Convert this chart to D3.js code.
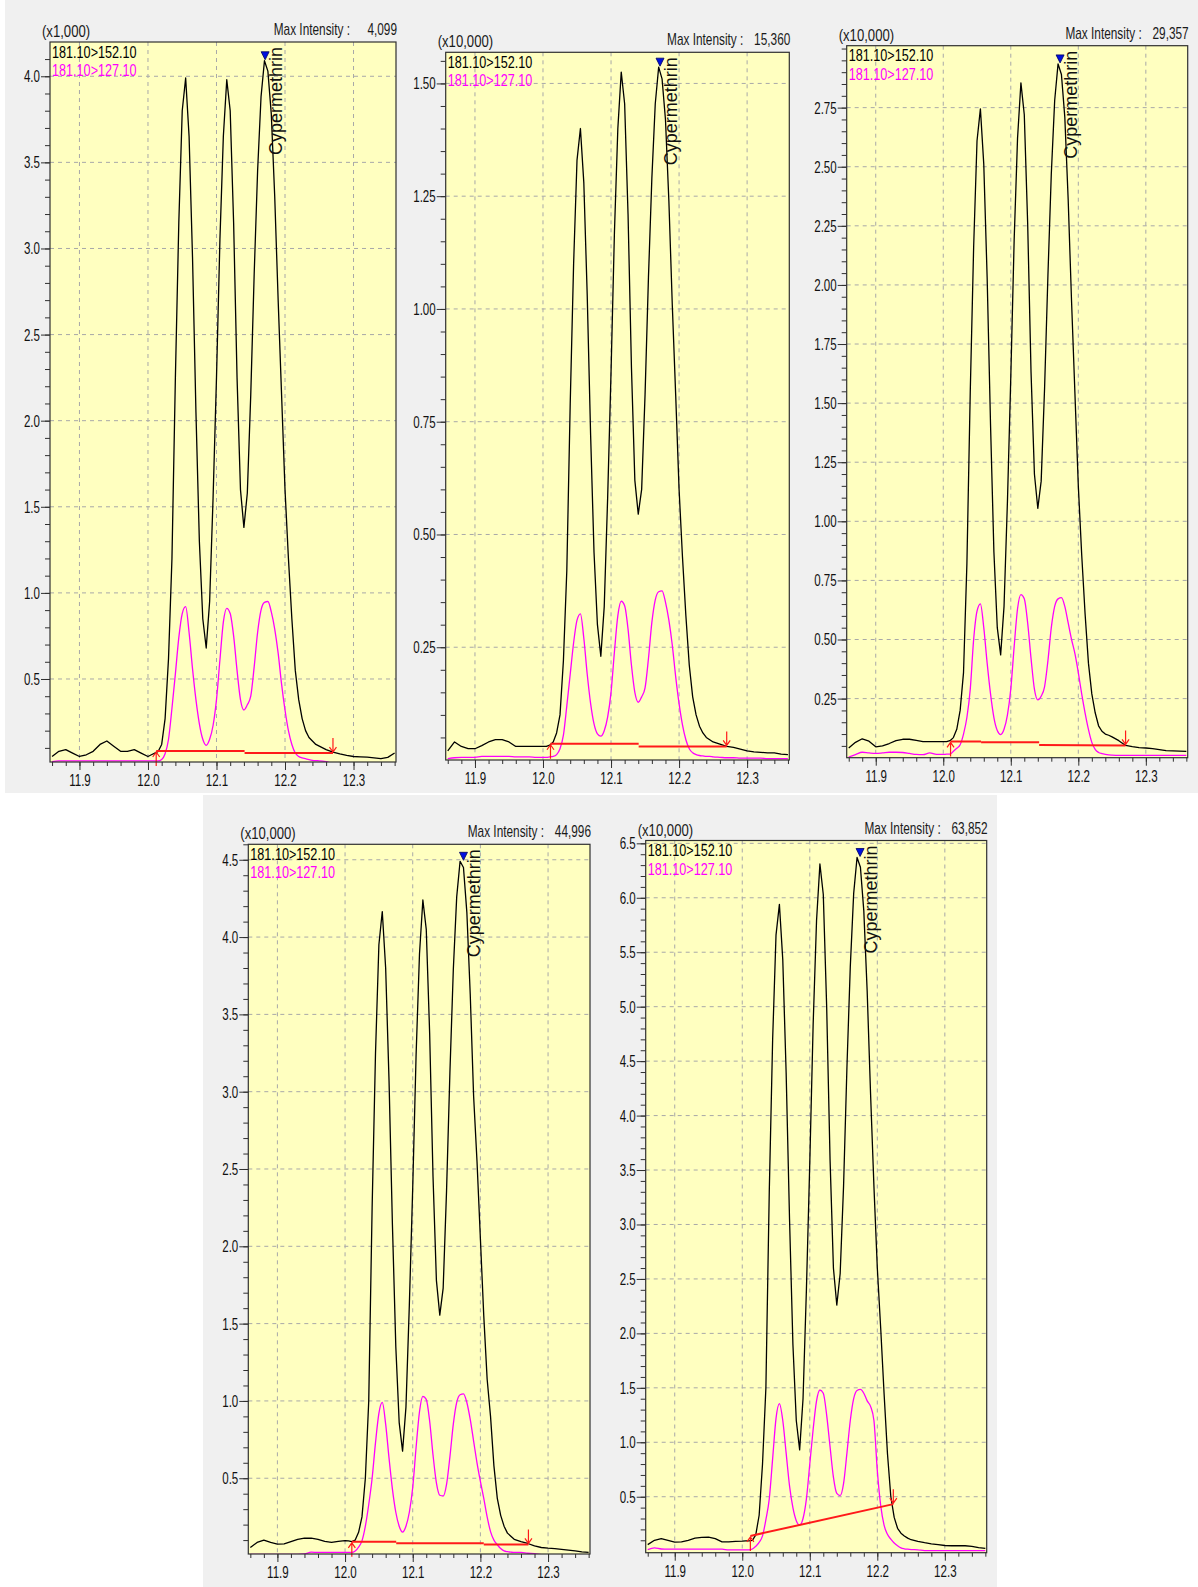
<!DOCTYPE html>
<html>
<head>
<meta charset="utf-8">
<script src="https://cdn.jsdelivr.net/npm/d3@7"></script>
<style>
  body { margin: 0; background: #ffffff; }
  svg text { font-family: "Liberation Sans", Arial, sans-serif; }
</style>
</head>
<body>
<svg id="chart" width="1198" height="1587"></svg>
<script>
// Retention time grid (min): coarse on the baseline, fine across the peak cluster
const times = [
  11.86, 11.87, 11.88, 11.89, 11.90, 11.91, 11.92, 11.93, 11.94, 11.95, 11.96, 11.97, 11.98, 11.99, 12.00,
  12.005, 12.010, 12.015, 12.020, 12.025, 12.030, 12.035, 12.040, 12.045, 12.050,
  12.055, 12.060, 12.065, 12.070, 12.075, 12.080, 12.085, 12.090, 12.095, 12.100,
  12.105, 12.110, 12.115, 12.120, 12.125, 12.130, 12.135, 12.140, 12.145, 12.150,
  12.155, 12.160, 12.165, 12.170, 12.175, 12.180, 12.185, 12.190, 12.195, 12.200,
  12.205, 12.210, 12.215, 12.220, 12.225, 12.230, 12.235, 12.240, 12.245, 12.250,
  12.26, 12.27, 12.28, 12.29, 12.30, 12.31, 12.32, 12.33, 12.34, 12.35, 12.36
];

const xTicks = [11.9, 12.0, 12.1, 12.2, 12.3];
const transitions = ["181.10>152.10", "181.10>127.10"];
const compoundName = "Cypermethrin";

// Level 1 (x1,000)
const p1Quant = [
  0.05, 0.08, 0.09, 0.07, 0.05, 0.06, 0.08, 0.12, 0.14, 0.11, 0.08, 0.08, 0.09, 0.07, 0.05,
  0.06, 0.07, 0.08, 0.12, 0.27, 0.62, 1.20, 2.25, 3.15, 3.80,
  3.99, 3.65, 2.95, 2.05, 1.30, 0.85, 0.68, 0.95, 1.55, 2.25,
  3.05, 3.65, 3.98, 3.80, 3.15, 2.25, 1.60, 1.38, 1.58, 2.15,
  2.85, 3.45, 3.88, 4.09, 4.03, 3.78, 3.30, 2.70, 2.15, 1.60,
  1.20, 0.85, 0.55, 0.38, 0.27, 0.20, 0.16, 0.14, 0.12, 0.11,
  0.09, 0.076, 0.065, 0.056, 0.05, 0.048, 0.046, 0.042, 0.037, 0.045, 0.07
];
const p1Qual = [
  0.02, 0.025, 0.025, 0.025, 0.025, 0.025, 0.025, 0.025, 0.025, 0.025, 0.025, 0.025, 0.025, 0.025, 0.025,
  0.025, 0.025, 0.025, 0.033, 0.066, 0.15, 0.33, 0.53, 0.74, 0.88,
  0.92, 0.77, 0.56, 0.38, 0.24, 0.15, 0.115, 0.15, 0.23, 0.38,
  0.61, 0.83, 0.91, 0.88, 0.75, 0.55, 0.38, 0.32, 0.35, 0.40,
  0.57, 0.77, 0.90, 0.945, 0.95, 0.89, 0.79, 0.65, 0.47, 0.32,
  0.20, 0.12, 0.07, 0.05, 0.042, 0.037, 0.032, 0.028, 0.026, 0.025,
  0.02, 0.012, 0.012, 0.012, 0.012, 0.012, 0.012, 0.012, 0.012, 0.012, 0.012
];

// Level 2 (x10,000)
const p2Quant = [
  0.02, 0.04, 0.03, 0.025, 0.025, 0.032, 0.04, 0.045, 0.045, 0.04, 0.03, 0.03, 0.03, 0.03, 0.03,
  0.030, 0.033, 0.040, 0.060, 0.10, 0.22, 0.42, 0.79, 1.10, 1.33,
  1.40, 1.28, 1.03, 0.72, 0.46, 0.30, 0.23, 0.34, 0.58, 0.86,
  1.17, 1.40, 1.525, 1.455, 1.21, 0.87, 0.62, 0.545, 0.60, 0.81,
  1.07, 1.29, 1.455, 1.536, 1.51, 1.42, 1.24, 1.01, 0.81, 0.60,
  0.45, 0.32, 0.21, 0.14, 0.10, 0.075, 0.06, 0.05, 0.045, 0.04,
  0.035, 0.03, 0.028, 0.024, 0.02, 0.018, 0.017, 0.016, 0.016, 0.013, 0.012
];
const p2Qual = [
  0.003, 0.005, 0.006, 0.006, 0.006, 0.008, 0.008, 0.008, 0.008, 0.008, 0.007, 0.007, 0.007, 0.006, 0.006,
  0.006, 0.007, 0.008, 0.012, 0.025, 0.055, 0.12, 0.19, 0.26, 0.31,
  0.324, 0.27, 0.19, 0.125, 0.08, 0.058, 0.053, 0.065, 0.095, 0.15,
  0.24, 0.32, 0.352, 0.342, 0.29, 0.21, 0.15, 0.128, 0.14, 0.16,
  0.225, 0.305, 0.355, 0.373, 0.375, 0.35, 0.31, 0.255, 0.185, 0.125,
  0.078, 0.045, 0.025, 0.016, 0.012, 0.01, 0.009, 0.008, 0.008, 0.007,
  0.006, 0.005, 0.005, 0.004, 0.004, 0.004, 0.004, 0.003, 0.003, 0.003, 0.003
];

// Level 3 (x10,000)
const p3Quant = [
  0.041, 0.065, 0.08, 0.07, 0.046, 0.05, 0.06, 0.072, 0.078, 0.078, 0.073, 0.068, 0.068, 0.068, 0.068,
  0.068, 0.072, 0.085, 0.12, 0.20, 0.36, 0.82, 1.55, 2.16, 2.61,
  2.745, 2.51, 2.03, 1.41, 0.87, 0.55, 0.435, 0.64, 1.08, 1.61,
  2.19, 2.62, 2.855, 2.72, 2.26, 1.63, 1.20, 1.055, 1.17, 1.56,
  2.04, 2.47, 2.78, 2.935, 2.89, 2.71, 2.36, 1.93, 1.54, 1.15,
  0.86, 0.61, 0.40, 0.27, 0.19, 0.135, 0.112, 0.10, 0.095, 0.088,
  0.072, 0.052, 0.047, 0.043, 0.041, 0.038, 0.034, 0.03, 0.029, 0.028, 0.027
];
const p3Qual = [
  0.003, 0.013, 0.023, 0.02, 0.018, 0.02, 0.023, 0.023, 0.022, 0.018, 0.014, 0.013, 0.02, 0.014, 0.014,
  0.015, 0.015, 0.027, 0.04, 0.055, 0.10, 0.17, 0.29, 0.50, 0.62,
  0.651, 0.55, 0.40, 0.27, 0.17, 0.115, 0.098, 0.12, 0.18, 0.29,
  0.47, 0.63, 0.69, 0.672, 0.57, 0.42, 0.29, 0.245, 0.26, 0.30,
  0.41, 0.55, 0.64, 0.672, 0.677, 0.64, 0.57, 0.50, 0.44, 0.36,
  0.27, 0.19, 0.12, 0.065, 0.035, 0.022, 0.017, 0.014, 0.012, 0.011,
  0.01, 0.01, 0.01, 0.01, 0.01, 0.01, 0.01, 0.01, 0.01, 0.01, 0.01
];

// Level 4 (x10,000)
const p4Quant = [
  0.052, 0.085, 0.10, 0.085, 0.074, 0.075, 0.09, 0.105, 0.113, 0.112, 0.105, 0.092, 0.085, 0.092, 0.097,
  0.095, 0.09, 0.10, 0.15, 0.25, 0.50, 1.00, 2.25, 3.25, 3.95,
  4.165, 3.80, 3.07, 2.14, 1.35, 0.86, 0.675, 0.96, 1.62, 2.38,
  3.24, 3.89, 4.24, 4.05, 3.38, 2.45, 1.78, 1.555, 1.73, 2.36,
  3.13, 3.79, 4.26, 4.49, 4.45, 4.16, 3.63, 2.97, 2.55, 2.05,
  1.55, 1.14, 0.90, 0.58, 0.37, 0.26, 0.19, 0.145, 0.125, 0.105,
  0.09, 0.078, 0.062, 0.052, 0.048, 0.045, 0.04, 0.035, 0.03, 0.024, 0.02
];
const p4Qual = [
  0.008, 0.008, 0.008, 0.008, 0.008, 0.008, 0.008, 0.008, 0.01, 0.022, 0.02, 0.02, 0.02, 0.02, 0.02,
  0.02, 0.02, 0.03, 0.055, 0.095, 0.19, 0.33, 0.50, 0.73, 0.92,
  0.99, 0.85, 0.63, 0.43, 0.28, 0.19, 0.152, 0.19, 0.28, 0.44,
  0.70, 0.93, 1.03, 1.01, 0.87, 0.65, 0.47, 0.39, 0.385, 0.46,
  0.64, 0.85, 0.99, 1.04, 1.046, 0.99, 0.88, 0.74, 0.60, 0.48,
  0.37, 0.25, 0.155, 0.10, 0.07, 0.045, 0.03, 0.025, 0.022, 0.02,
  0.02, 0.015, 0.013, 0.006, 0.004, 0.004, 0.004, 0.004, 0.004, 0.004, 0.004
];

// Level 5 (x10,000)
const p5Quant = [
  0.06, 0.10, 0.116, 0.10, 0.083, 0.085, 0.10, 0.12, 0.127, 0.128, 0.115, 0.085, 0.085, 0.09, 0.092,
  0.095, 0.095, 0.10, 0.15, 0.33, 0.80, 1.50, 3.30, 4.70, 5.66,
  5.94, 5.43, 4.39, 3.05, 1.90, 1.20, 0.93, 1.40, 2.40, 3.57,
  4.84, 5.79, 6.31, 6.03, 5.00, 3.60, 2.60, 2.26, 2.55, 3.35,
  4.44, 5.37, 6.04, 6.37, 6.28, 5.88, 5.14, 4.20, 3.35, 2.60,
  2.05, 1.45, 0.90, 0.50, 0.31, 0.21, 0.165, 0.14, 0.12, 0.105,
  0.09, 0.078, 0.068, 0.06, 0.052, 0.05, 0.05, 0.05, 0.045, 0.032, 0.025
];
const p5Qual = [
  0.014, 0.03, 0.02, 0.018, 0.018, 0.018, 0.018, 0.018, 0.018, 0.018, 0.018, 0.018, 0.012, 0.012, 0.012,
  0.012, 0.012, 0.02, 0.045, 0.08, 0.14, 0.29, 0.48, 0.85, 1.22,
  1.355, 1.20, 0.90, 0.60, 0.40, 0.28, 0.24, 0.30, 0.48, 0.80,
  1.12, 1.38, 1.48, 1.45, 1.25, 0.96, 0.68, 0.53, 0.51, 0.62,
  0.90, 1.20, 1.40, 1.475, 1.485, 1.45, 1.38, 1.33, 1.20, 0.74,
  0.42, 0.24, 0.155, 0.11, 0.075, 0.05, 0.03, 0.022, 0.018, 0.015,
  0.012, 0.005, 0.005, 0.005, 0.005, 0.005, 0.005, 0.005, 0.005, 0.005, 0.005
];

// Integration baselines: [start time, start level, end time, end level]
const p1Base = [[12.012, 0.082, 12.141, 0.082], [12.141, 0.07, 12.27, 0.07]];
const p2Base = [[12.011, 0.036, 12.1406, 0.036], [12.1406, 0.03, 12.27, 0.03]];
const p3Base = [[12.0108, 0.069, 12.056, 0.069], [12.056, 0.065, 12.142, 0.065], [12.142, 0.054, 12.27, 0.052]];
const p4Base = [[12.010, 0.089, 12.0756, 0.089], [12.0756, 0.08, 12.205, 0.08], [12.205, 0.072, 12.271, 0.072]];
const p5Base = [[12.012, 0.14, 12.2237, 0.432]];

// Apex of the identified peak (min)
const apexTimes = [12.171, 12.172, 12.173, 12.175, 12.1745];
const maxIntensities = ["4,099", "15,360", "29,357", "44,996", "63,852"];
const unitLabels = ["(x1,000)", "(x10,000)", "(x10,000)", "(x10,000)", "(x10,000)"];

const p1YTicks = [0.5, 1.0, 1.5, 2.0, 2.5, 3.0, 3.5, 4.0];
const p2YTicks = [0.25, 0.50, 0.75, 1.00, 1.25, 1.50];
const p3YTicks = [0.25, 0.50, 0.75, 1.00, 1.25, 1.50, 1.75, 2.00, 2.25, 2.50, 2.75];
const p4YTicks = [0.5, 1.0, 1.5, 2.0, 2.5, 3.0, 3.5, 4.0, 4.5];
const p5YTicks = [0.5, 1.0, 1.5, 2.0, 2.5, 3.0, 3.5, 4.0, 4.5, 5.0, 5.5, 6.0, 6.5];

// ---- layout ----
const svg = d3.select("#chart");
const xDomain = [11.857, 12.362];

const panels = [
  { box: { l: 50, t: 42, r: 396, b: 762 }, yDomain: [0.018, 4.199], yTicks: p1YTicks, minorStep: 0.1, fmt: ".1f",
    quant: p1Quant, qual: p1Qual, base: p1Base },
  { box: { l: 445.7, t: 52.3, r: 789.3, b: 760 }, yDomain: [0, 1.569], yTicks: p2YTicks, minorStep: 0.05, fmt: ".2f",
    quant: p2Quant, qual: p2Qual, base: p2Base },
  { box: { l: 846.7, t: 45.7, r: 1187.7, b: 757.7 }, yDomain: [0, 3.012], yTicks: p3YTicks, minorStep: 0.05, fmt: ".2f",
    quant: p3Quant, qual: p3Qual, base: p3Base },
  { box: { l: 248.3, t: 844.3, r: 590, b: 1554 }, yDomain: [0.01, 4.60], yTicks: p4YTicks, minorStep: 0.1, fmt: ".1f",
    quant: p4Quant, qual: p4Qual, base: p4Base },
  { box: { l: 645.7, t: 840.5, r: 986.7, b: 1552.7 }, yDomain: [-0.014, 6.526], yTicks: p5YTicks, minorStep: 0.1, fmt: ".1f",
    quant: p5Quant, qual: p5Qual, base: p5Base }
];

// condensed label placed at (x, y), squeezed horizontally by sx
function narrowText(parent, x, y, str, opts) {
  return parent.append("text")
    .attr("transform", `translate(${x},${y}) scale(${opts.sx},1)`)
    .attr("text-anchor", opts.anchor || "start")
    .style("font-size", (opts.size || 16) + "px")
    .attr("fill", opts.fill || "#1a1a1a")
    .text(str);
}

// window backgrounds
svg.append("rect").attr("x", 5).attr("y", 0).attr("width", 1193).attr("height", 793).attr("fill", "#f0f0f0");
svg.append("rect").attr("x", 203).attr("y", 795).attr("width", 794).attr("height", 792).attr("fill", "#f0f0f0");

const GRID = "#a8a8a8";
const AXIS = "#303030";
const TICK_SX = 0.68;

panels.forEach((p, i) => {
  const { l, t, r, b } = p.box;
  const g = svg.append("g");
  const x = d3.scaleLinear().domain(xDomain).range([l, r]);
  const y = d3.scaleLinear().domain(p.yDomain).range([b, t]);

  const clipId = "clip" + i;
  svg.append("clipPath").attr("id", clipId)
    .append("rect").attr("x", l).attr("y", t).attr("width", r - l).attr("height", b - t);

  // plot area
  g.append("rect").attr("x", l).attr("y", t).attr("width", r - l).attr("height", b - t)
    .attr("fill", "#ffffc0");

  // dashed grid
  const grid = g.append("g").attr("stroke", GRID).attr("stroke-dasharray", "4,4").attr("stroke-width", 1);
  xTicks.forEach(v => grid.append("line").attr("x1", x(v)).attr("x2", x(v)).attr("y1", t).attr("y2", b));
  p.yTicks.forEach(v => grid.append("line").attr("x1", l).attr("x2", r).attr("y1", y(v)).attr("y2", y(v)));

  // axes
  const minorY = d3.range(1, 80).map(k => +(k * p.minorStep).toFixed(3))
    .filter(v => v >= p.yDomain[0] && v <= p.yDomain[1]);
  const minorX = d3.range(0, 26).map(k => +(11.86 + k * 0.02).toFixed(2))
    .filter(v => v >= xDomain[0] && v <= xDomain[1]);

  const yMinor = g.append("g").attr("transform", `translate(${l},0)`)
    .call(d3.axisLeft(y).tickValues(minorY).tickSize(5).tickFormat(""));
  const yMajor = g.append("g").attr("transform", `translate(${l},0)`)
    .call(d3.axisLeft(y).tickValues(p.yTicks).tickSize(9).tickPadding(1).tickFormat(d3.format(p.fmt)));
  const xMinor = g.append("g").attr("transform", `translate(0,${b})`)
    .call(d3.axisBottom(x).tickValues(minorX).tickSize(4).tickFormat(""));
  const xMajor = g.append("g").attr("transform", `translate(0,${b})`)
    .call(d3.axisBottom(x).tickValues(xTicks).tickSize(8).tickPadding(4).tickFormat(d3.format(".1f")));
  [yMinor, yMajor, xMinor, xMajor].forEach(a => {
    a.select(".domain").remove();
    a.selectAll("line").attr("stroke", AXIS);
    a.selectAll("text").attr("fill", "#111").style("font-size", "17px")
      .style("font-family", "\"Liberation Sans\", Arial, sans-serif");
  });
  // squeeze tick labels horizontally around their anchor
  yMajor.selectAll(".tick text").each(function () {
    const tx = +d3.select(this).attr("x");
    d3.select(this).attr("x", 0).attr("transform", `translate(${tx},0) scale(${TICK_SX},1)`);
  });
  xMajor.selectAll(".tick text").attr("transform", `scale(${TICK_SX},1)`);

  // traces
  const plot = g.append("g").attr("clip-path", `url(#${clipId})`);
  const lineQuant = d3.line().x((d, k) => x(times[k])).y(d => y(d)).curve(d3.curveLinear);
  const lineQual = d3.line().x((d, k) => x(times[k])).y(d => y(d)).curve(d3.curveMonotoneX);

  plot.append("path").datum(p.qual).attr("d", lineQual)
    .attr("fill", "none").attr("stroke", "#ff00ff").attr("stroke-width", 1.3);
  plot.append("path").datum(p.quant).attr("d", lineQuant)
    .attr("fill", "none").attr("stroke", "#000000").attr("stroke-width", 1.3)
    .attr("stroke-linejoin", "round");

  // integration baseline with start / end markers
  const red = "#ff1a1a";
  p.base.forEach(s => {
    plot.append("line").attr("x1", x(s[0])).attr("y1", y(s[1])).attr("x2", x(s[2])).attr("y2", y(s[3]))
      .attr("stroke", red).attr("stroke-width", 2);
  });
  const first = p.base[0], last = p.base[p.base.length - 1];
  const sx = x(first[0]), sy = y(first[1]);
  const ex = x(last[2]), ey = y(last[3]);
  g.append("path")
    .attr("d", `M${sx},${sy + 15}L${sx},${sy + 1}M${sx - 3.5},${sy + 6}L${sx},${sy + 1}L${sx + 3.5},${sy + 6}`)
    .attr("fill", "none").attr("stroke", red).attr("stroke-width", 1.2);
  g.append("path")
    .attr("d", `M${ex},${ey - 15}L${ex},${ey - 1}M${ex - 3.5},${ey - 6}L${ex},${ey - 1}L${ex + 3.5},${ey - 6}`)
    .attr("fill", "none").attr("stroke", red).attr("stroke-width", 1.2);

  // frame
  g.append("rect").attr("x", l).attr("y", t).attr("width", r - l).attr("height", b - t)
    .attr("fill", "none").attr("stroke", AXIS).attr("stroke-width", 1.2);

  // peak marker and compound name
  const apexIdx = d3.maxIndex(p.quant);
  const mx = x(apexTimes[i]);
  const my = y(p.quant[apexIdx]) - 1;
  g.append("path").attr("d", `M${mx - 4},${my - 8}L${mx + 4},${my - 8}L${mx},${my}Z`)
    .attr("fill", "#0010e0").attr("stroke", "#000060").attr("stroke-width", 0.8);
  g.append("text").attr("transform", `translate(${mx + 17},${t + 5}) rotate(-90)`)
    .attr("text-anchor", "end").style("font-size", "18px").attr("fill", "#111").text(compoundName);

  // legend
  narrowText(g, l + 2, t + 15.5, transitions[0], { fill: "#000", sx: 0.79 });
  narrowText(g, l + 2, t + 34, transitions[1], { fill: "#ff00ff", sx: 0.79 });

  // header
  narrowText(g, l - 8, t - 5, unitLabels[i], { sx: 0.82 });
  narrowText(g, r - 46, t - 7, "Max Intensity :", { anchor: "end", sx: 0.74 });
  narrowText(g, r + 1, t - 7, maxIntensities[i], { anchor: "end", sx: 0.74 });
});
</script>
</body>
</html>
